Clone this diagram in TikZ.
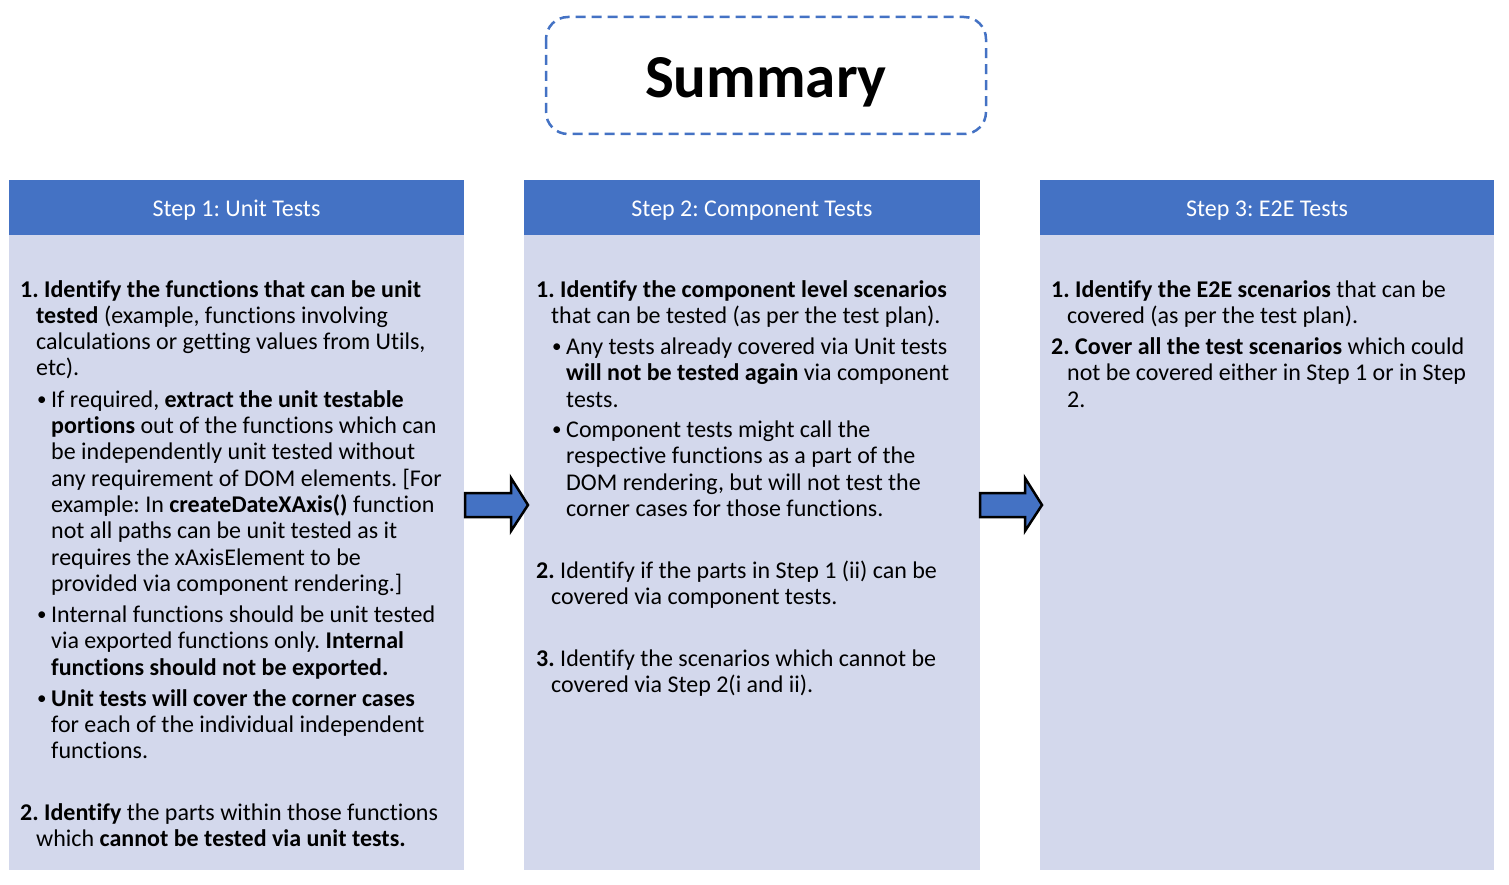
\documentclass[tikz,border=0pt]{standalone}
\usepackage{fontspec}
\setmainfont[Ligatures={NoCommon}]{Carlito}
\definecolor{hdrblue}{HTML}{4472C4}
\definecolor{bodylav}{HTML}{D3D8EC}
\newcommand\txtline[3]{\node[txt] (#1) at (#2) {#3};}
\newcommand\bul{\raisebox{1.5pt}{\fontsize{19}{20}\selectfont •}}
\begin{document}
\frenchspacing
\begin{tikzpicture}[x=1pt,y=-1pt,
  txt/.style={anchor=base west,inner sep=0pt,font=\fontsize{24}{26}\selectfont\frenchspacing},
  hdrtxt/.style={anchor=base,inner sep=0pt,text=white,font=\fontsize{24}{26}\selectfont\frenchspacing},
  colbody/.style={fill=bodylav,draw=none},
  colhead/.style={fill=hdrblue,draw=none},
  blockarrow/.style={fill=hdrblue,draw=black,line width=2.5pt,line join=miter}]
\useasboundingbox (0,0) rectangle (1509,885);
\fill[white] (0,0) rectangle (1509,885);
% Summary box
\draw[hdrblue,line width=2.5pt,dash pattern=on 10pt off 6pt,rounded corners=22pt] (546,17) rectangle (986,134);
\node[anchor=base,inner sep=0pt,font=\fontsize{61}{70}\selectfont\bfseries] (sum) at (766,98) {Summary};
% columns
\fill[colbody] (9,235) rectangle (464,870);
\fill[colbody] (524,235) rectangle (980,870);
\fill[colbody] (1040,235) rectangle (1494,870);
\fill[colhead] (9,180) rectangle (464,235);
\fill[colhead] (524,180) rectangle (980,235);
\fill[colhead] (1040,180) rectangle (1494,235);
\node[hdrtxt] (h1) at (236.5,217) {Step 1: Unit Tests};
\node[hdrtxt] (h2) at (752,217) {Step 2: Component Tests};
\node[hdrtxt] (h3) at (1267,217) {Step 3: E2E Tests};
% arrows
\draw[blockarrow] (465,493) -- (511,493) -- (511,478) -- (528,505) -- (511,531) -- (511,517) -- (465,517) -- cycle;
\draw[blockarrow] (980,493) -- (1025,493) -- (1025,478) -- (1042,505) -- (1025,531) -- (1025,517) -- (980,517) -- cycle;
% column 1
\txtline{a1}{20,297}{\textbf{1. Identify the functions that can be unit}}
\txtline{a2}{36,323}{\textbf{tested} (example, functions involving}
\txtline{a3}{36,349}{calculations or getting values from Utils,}
\txtline{a4}{36,375}{etc).}
\txtline{ab1}{37,407}{\bul}
\txtline{a5}{51,407}{If required, \textbf{extract the unit testable}}
\txtline{a6}{51,433}{\textbf{portions} out of the functions which can}
\txtline{a7}{51,459}{be independently unit tested without}
\txtline{a8}{51,486}{any requirement of DOM elements. [For}
\txtline{a9}{51,512}{example: In \textbf{createDateXAxis()} function}
\txtline{a10}{51,538}{not all paths can be unit tested as it}
\txtline{a11}{51,565}{requires the xAxisElement to be}
\txtline{a12}{51,591}{provided via component rendering.]}
\txtline{ab2}{37,622}{\bul}
\txtline{a13}{51,622}{Internal functions should be unit tested}
\txtline{a14}{51,648}{via exported functions only. \textbf{Internal}}
\txtline{a15}{51,675}{\textbf{functions should not be exported.}}
\txtline{ab3}{37,706}{\bul}
\txtline{a16}{51,706}{\textbf{Unit tests will cover the corner cases}}
\txtline{a17}{51,732}{for each of the individual independent}
\txtline{a18}{51,758}{functions.}
\txtline{a19}{20,820}{\textbf{2. Identify} the parts within those functions}
\txtline{a20}{36,846}{which \textbf{cannot be tested via unit tests.}}
% column 2
\txtline{b1}{536,297}{\textbf{1. Identify the component level scenarios}}
\txtline{b2}{551,323}{that can be tested (as per the test plan).}
\txtline{bb1}{552,354}{\bul}
\txtline{b3}{566,354}{Any tests already covered via Unit tests}
\txtline{b4}{566,380}{\textbf{will not be tested again} via component}
\txtline{b5}{566,407}{tests.}
\txtline{bb2}{552,437}{\bul}
\txtline{b6}{566,437}{Component tests might call the}
\txtline{b7}{566,463}{respective functions as a part of the}
\txtline{b8}{566,490}{DOM rendering, but will not test the}
\txtline{b9}{566,516}{corner cases for those functions.}
\txtline{b10}{536,578}{\textbf{2.} Identify if the parts in Step 1 (ii) can be}
\txtline{b11}{551,604}{covered via component tests.}
\txtline{b12}{536,666}{\textbf{3.} Identify the scenarios which cannot be}
\txtline{b13}{551,692}{covered via Step 2(i and ii).}
% column 3
\txtline{c1}{1051,297}{\textbf{1. Identify the E2E scenarios} that can be}
\txtline{c2}{1067,323}{covered (as per the test plan).}
\txtline{c3}{1051,354}{\textbf{2. Cover all the test scenarios} which could}
\txtline{c4}{1067,380}{not be covered either in Step 1 or in Step}
\txtline{c5}{1067,407}{2.}
\end{tikzpicture}
\end{document}
